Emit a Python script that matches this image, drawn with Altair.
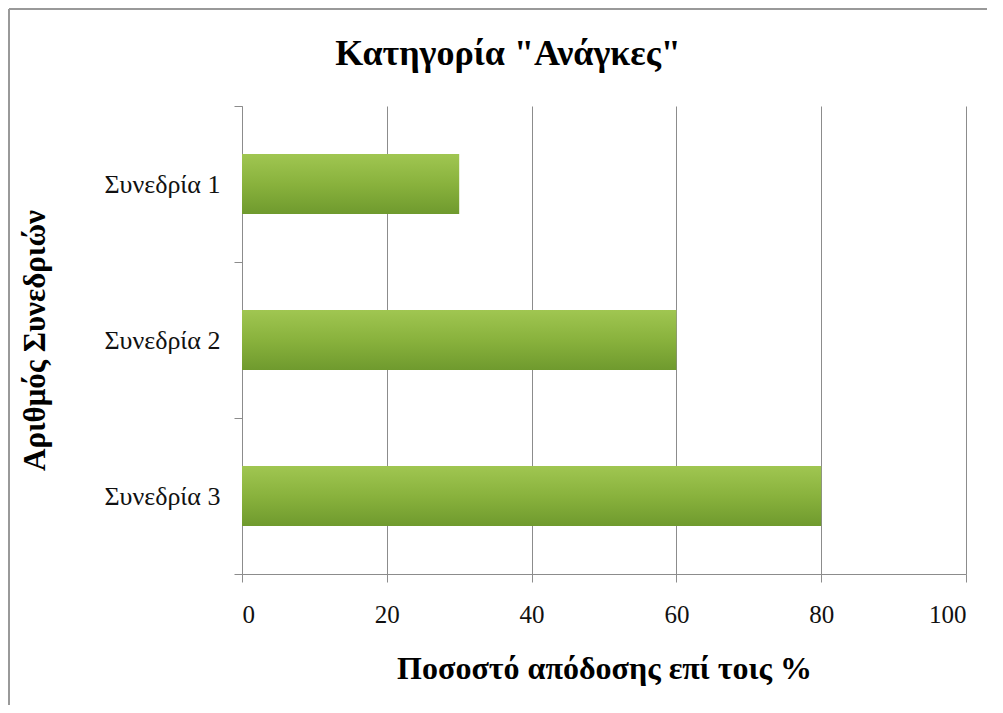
import altair as alt
import pandas as pd

categories = ["Συνεδρία 1", "Συνεδρία 2", "Συνεδρία 3"]
values = [30, 60, 80]
x_ticks = [0, 20, 40, 60, 80, 100]
title_text = "Κατηγορία \"Ανάγκες\""

df = pd.DataFrame({"session": categories, "value": values})
one_df = pd.DataFrame({"k": [0]})

FONT = "Liberation Serif"
GRAY = "#8c8c8c"

bars = alt.Chart(df).mark_bar(
    height=alt.RelativeBandSize(0.385),
    color=alt.Gradient(
        gradient="linear",
        x1=0, y1=0, x2=0, y2=1,
        stops=[
            alt.GradientStop(color="#a0c651", offset=0),
            alt.GradientStop(color="#89b23d", offset=0.5),
            alt.GradientStop(color="#6f9a2e", offset=1),
        ],
    ),
).encode(
    x=alt.X(
        "value:Q",
        scale=alt.Scale(domain=[0, 100], nice=False),
        axis=alt.Axis(
            values=x_ticks,
            title="Ποσοστό απόδοσης επί τοις %",
            grid=True,
            gridColor=GRAY,
            gridWidth=1,
            domainColor=GRAY,
            tickColor=GRAY,
            tickSize=8,
            labelFontSize=25,
            labelPadding=20,
            labelColor="#111",
            titleFontSize=32,
            titleFontWeight="bold",
            titlePadding=26,
            titleColor="#000",
        ),
    ),
    y=alt.Y(
        "session:N",
        sort=categories,
        scale=alt.Scale(paddingInner=0, paddingOuter=0),
        axis=alt.Axis(
            title="Αριθμός Συνεδριών",
            tickBand="extent",
            grid=False,
            domainColor=GRAY,
            tickColor=GRAY,
            tickSize=8,
            labelFontSize=26,
            labelPadding=14,
            labelColor="#111",
            titleFontSize=31,
            titleFontWeight="bold",
            titlePadding=52,
            titleColor="#000",
        ),
    ),
)

title_mark = alt.Chart(one_df).mark_text(
    text=title_text,
    font=FONT,
    fontSize=36,
    fontWeight="bold",
    color="#000",
    align="center",
    baseline="middle",
).encode(x=alt.value(266), y=alt.value(-52))

frame_left = alt.Chart(one_df).mark_rule(color="#999999", strokeWidth=2).encode(
    x=alt.value(-233), y=alt.value(-97), y2=alt.value(610)
)
frame_top = alt.Chart(one_df).mark_rule(color="#999999", strokeWidth=2).encode(
    x=alt.value(-233), x2=alt.value(745), y=alt.value(-97)
)

chart = alt.layer(bars, title_mark, frame_left, frame_top).properties(
    width=724,
    height=468,
    padding={"left": 234, "top": 98, "right": 21, "bottom": 131},
    autosize=alt.AutoSizeParams(type="none"),
).configure(
    font=FONT,
).configure_axis(
    labelFont=FONT,
    titleFont=FONT,
).configure_view(
    stroke=None,
)

chart.save("out.html", embed_options={"renderer": "svg", "actions": False})
